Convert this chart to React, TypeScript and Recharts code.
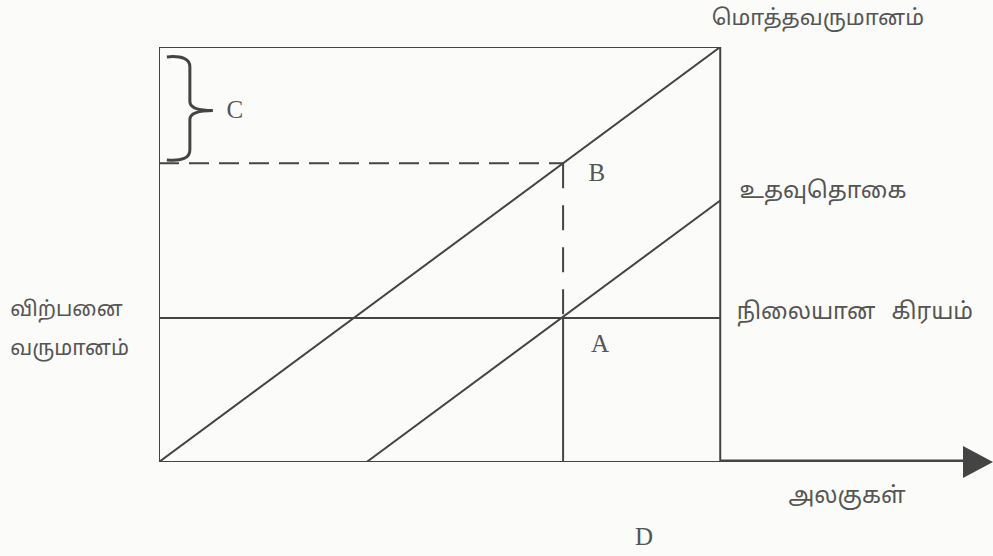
import React from 'react';
import { LineChart, Line, XAxis, YAxis, ReferenceDot, ReferenceArea } from 'recharts';

// units on x (box right edge = 100), revenue on y (box top = 100)
const frame = [
    { x: 0, y: 0 },
    { x: 0, y: 100 },
    { x: 100, y: 100 },
    { x: 100, y: 0 },
    { x: 0, y: 0 },
];
const totalRevenue = [{ x: 0, y: 0 }, { x: 100, y: 100 }];
const subsidy = [{ x: 37, y: 0 }, { x: 100, y: 63 }];
const fixedCost = [{ x: 0, y: 34.7 }, { x: 100, y: 34.7 }];
const unitsDrop = [{ x: 72, y: 34.7 }, { x: 72, y: 0 }];
const unitsDashed = [{ x: 72, y: 72 }, { x: 72, y: 34.7 }];
const revenueDashed = [{ x: 0, y: 72 }, { x: 72, y: 72 }];
const unitsArrow = [{ x: 100, y: 0 }, { x: 144, y: 0 }];

const lineLabels = [
    { text: 'மொத்தவருமானம்', x: 117.4, y: 107.2, size: 22 },
    { text: 'உதவுதொகை', x: 118.3, y: 65.5, size: 23 },
    { text: 'நிலையான கிரயம்', x: 124.0, y: 36.4, size: 23 },
    { text: 'அலகுகள்', x: 122.6, y: -8.0, size: 23 },
];
const axisLabels = [
    { text: 'விற்பனை', x: -26.5, y: 36.9 },
    { text: 'வருமானம்', x: -26.5, y: 27.5 },
];
const pointLabels = [
    { text: 'A', x: 78.6, y: 28.7 },
    { text: 'B', x: 78.0, y: 69.9 },
    { text: 'C', x: 13.5, y: 85.1 },
    { text: 'D', x: 86.4, y: -17.8 },
];

const INK = '#444444';
const TEXT = '#555555';
const TAMIL = '"Noto Sans Tamil", "Noto Sans", sans-serif';
const SERIF = '"Liberation Serif", "DejaVu Serif", serif';

const Brace = (props: any) => {
    const { x, y, width, height } = props;
    const xm = x + width * 0.5;
    const ym = y + height * 0.52;
    const d = `M ${x} ${y + 2} Q ${xm} ${y} ${xm} ${y + 12} L ${xm} ${ym - 9} Q ${xm} ${ym} ${x + width} ${ym}`
        + ` Q ${xm} ${ym} ${xm} ${ym + 9} L ${xm} ${y + height - 12} Q ${xm} ${y + height} ${x} ${y + height - 2}`;
    return <path d={d} fill="none" stroke={INK} strokeWidth={3} />;
};

const ArrowHead = (props: any) => {
    const { cx, cy } = props;
    return <polygon points={`${cx},${cy} ${cx - 30},${cy - 16} ${cx - 30},${cy + 16}`} fill={INK} />;
};

const App: React.FC = () => {
    const seg = (data: { x: number; y: number }[], key: string, extra: any = {}) => (
        <Line
            key={key}
            data={data}
            dataKey="y"
            type="linear"
            dot={false}
            activeDot={false}
            stroke={INK}
            strokeWidth={2}
            isAnimationActive={false}
            {...extra}
        />
    );

    return (
        <div style={{ position: 'absolute', left: 0, top: 0, width: 993, height: 556, background: '#fbfbf9' }}>
            <LineChart width={993} height={556} margin={{ top: 47, right: 0, bottom: 94, left: 159 }}>
                <XAxis type="number" dataKey="x" domain={[0, 148.6]} hide allowDataOverflow />
                <YAxis type="number" dataKey="y" domain={[0, 100]} hide allowDataOverflow />
                {seg(frame, 'frame')}
                {seg(totalRevenue, 'total')}
                {seg(subsidy, 'subsidy')}
                {seg(fixedCost, 'fixed')}
                {seg(unitsDrop, 'drop')}
                {seg(unitsDashed, 'vdash', { strokeDasharray: '25 17' })}
                {seg(revenueDashed, 'hdash', { strokeDasharray: '20 10' })}
                {seg(unitsArrow, 'arrow', { strokeWidth: 5 })}
                <ReferenceDot x={148.6} y={0} ifOverflow="visible" shape={ArrowHead} />
                <ReferenceArea x1={1.4} x2={9.6} y1={72.3} y2={98.1} ifOverflow="visible" shape={Brace} />
                {lineLabels.map((l) => (
                    <ReferenceDot key={l.text} x={l.x} y={l.y} r={0} ifOverflow="visible" fill="none" stroke="none"
                        label={{ value: l.text, position: 'center', fill: TEXT, fontSize: l.size, fontFamily: TAMIL, wordSpacing: 10 }} />
                ))}
                {axisLabels.map((l) => (
                    <ReferenceDot key={l.text} x={l.x} y={l.y} r={0} ifOverflow="visible" fill="none" stroke="none"
                        label={{ value: l.text, position: 'right', offset: 0, fill: TEXT, fontSize: 21, fontFamily: TAMIL }} />
                ))}
                {pointLabels.map((l) => (
                    <ReferenceDot key={l.text} x={l.x} y={l.y} r={0} ifOverflow="visible" fill="none" stroke="none"
                        label={{ value: l.text, position: 'center', fill: TEXT, fontSize: 25, fontFamily: SERIF }} />
                ))}
            </LineChart>
        </div>
    );
};

export default App;
